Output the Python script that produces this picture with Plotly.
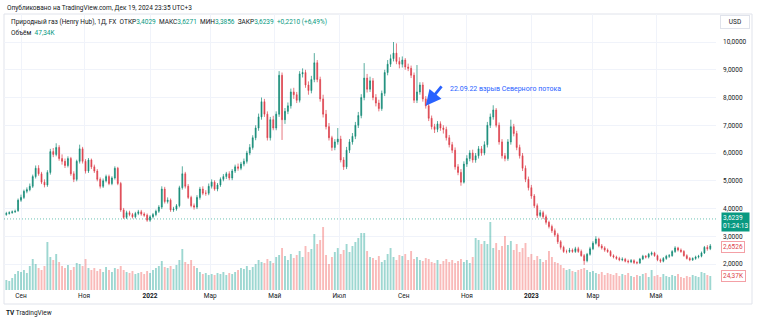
import pandas as pd
import plotly.graph_objects as go

# ---------------- data (2-trading-day candles) ----------------
DATES = pd.bdate_range("2021-08-18", periods=481)[::2]

OPEN = [3.78,3.82,3.85,3.88,3.92,4.30,4.40,4.62,4.68,4.80,
 5.15,5.45,5.25,4.95,4.85,5.30,6.05,5.95,6.20,5.80,
 5.70,5.55,5.80,5.25,5.05,5.70,6.15,5.70,5.35,5.75,
 5.50,5.35,5.05,4.80,5.00,5.15,4.90,5.10,5.45,4.90,
 3.95,3.68,3.85,3.78,3.70,3.82,3.88,3.80,3.76,3.58,
 3.70,3.78,3.90,4.05,4.70,4.25,4.30,3.95,3.98,4.10,
 4.75,5.25,4.80,4.40,4.10,4.05,4.40,4.70,4.55,4.55,
 4.80,4.95,4.70,4.85,5.05,5.15,5.25,5.10,5.35,5.50,
 5.45,5.60,5.70,6.00,6.20,6.55,6.90,7.30,7.85,7.40,
 6.55,7.20,6.90,7.40,8.80,7.20,7.50,7.70,8.20,8.10,
 7.90,8.85,8.90,8.45,8.25,8.65,9.25,8.65,7.95,7.40,
 6.95,6.55,6.20,6.40,6.50,5.75,5.50,6.10,6.40,6.60,
 7.00,7.35,8.00,8.70,8.30,8.60,8.00,7.80,7.60,8.15,
 8.90,9.20,9.40,9.60,9.30,9.20,9.35,9.10,9.05,8.80,
 7.90,8.20,8.45,7.95,7.70,7.25,6.95,6.85,7.05,6.90,
 6.85,6.55,6.30,6.10,5.50,5.30,4.95,5.60,5.80,6.00,
 5.75,5.90,6.15,6.00,6.30,7.00,7.30,7.55,7.00,6.40,
 5.90,5.80,6.40,6.95,6.70,6.20,5.90,5.45,5.05,4.75,
 4.45,4.10,3.75,3.85,3.70,3.50,3.35,3.20,3.05,2.80,
 2.60,2.45,2.45,2.50,2.45,2.55,2.45,2.30,2.12,2.35,
 2.55,2.75,2.90,2.65,2.58,2.50,2.45,2.30,2.25,2.20,
 2.15,2.17,2.10,2.08,2.12,2.05,2.04,2.18,2.28,2.25,
 2.35,2.40,2.30,2.15,2.10,2.20,2.28,2.30,2.45,2.58,
 2.50,2.45,2.30,2.20,2.15,2.20,2.25,2.28,2.40,2.60,
 2.55]

HIGH = [3.88,3.90,3.93,3.96,4.36,4.50,4.68,4.76,4.90,5.22,
 5.55,5.56,5.32,5.05,5.38,6.15,6.18,6.35,6.28,5.95,
 5.80,5.88,5.86,5.34,5.76,6.30,6.22,5.78,5.82,5.80,
 5.58,5.42,5.12,5.08,5.22,5.22,5.16,5.52,5.50,4.96,
 4.02,3.92,3.92,3.84,3.88,3.95,3.95,3.86,3.82,3.76,
 3.84,3.96,4.12,4.80,4.78,4.40,4.36,4.06,4.16,4.82,
 5.52,5.32,4.88,4.46,4.18,4.48,4.78,4.80,4.66,4.90,
 5.05,5.02,4.92,5.12,5.24,5.32,5.34,5.42,5.58,5.62,
 5.68,5.80,6.08,6.32,6.64,7.00,7.42,8.00,7.95,7.50,
 7.30,7.34,7.50,8.95,8.90,7.62,7.82,8.32,8.35,8.20,
 8.95,9.05,9.00,8.58,8.78,9.60,9.35,8.75,8.10,7.55,
 7.08,6.62,6.50,6.90,6.62,5.85,6.22,6.50,6.72,7.12,
 7.48,8.12,9.24,8.85,8.75,8.70,8.12,7.92,8.25,9.00,
 9.35,9.55,10.00,9.95,9.45,9.48,9.42,9.22,9.15,8.90,
 9.17,8.55,8.55,8.05,7.80,7.35,7.05,7.15,7.14,7.00,
 6.95,6.65,6.40,6.20,5.60,5.42,5.70,5.92,6.10,6.12,
 6.00,6.25,6.25,6.42,7.12,7.42,7.72,7.62,7.10,6.50,
 6.00,6.50,7.20,7.05,6.80,6.30,6.00,5.55,5.15,4.85,
 4.52,4.18,3.95,3.92,3.78,3.56,3.42,3.28,3.12,2.86,
 2.66,2.52,2.58,2.56,2.62,2.62,2.52,2.36,2.40,2.62,
 2.82,3.00,2.95,2.72,2.64,2.56,2.50,2.35,2.30,2.26,
 2.24,2.22,2.16,2.18,2.17,2.10,2.22,2.33,2.32,2.40,
 2.45,2.44,2.34,2.20,2.25,2.33,2.36,2.50,2.64,2.62,
 2.56,2.50,2.35,2.25,2.24,2.30,2.33,2.45,2.65,2.68,
 2.72]

LOW = [3.74,3.78,3.81,3.84,3.88,4.24,4.34,4.55,4.62,4.74,
 5.08,5.18,4.88,4.76,4.78,5.22,5.85,5.88,5.72,5.58,
 5.46,5.48,5.18,4.95,4.98,5.62,5.62,5.26,5.28,5.42,
 5.28,4.98,4.72,4.74,4.94,4.84,4.84,5.04,4.84,3.88,
 3.62,3.62,3.72,3.64,3.64,3.76,3.74,3.70,3.52,3.52,
 3.64,3.72,3.84,3.98,4.18,4.18,3.88,3.88,3.92,4.04,
 4.68,4.72,4.34,4.04,3.96,3.98,4.32,4.48,4.46,4.48,
 4.72,4.64,4.62,4.78,4.98,5.06,5.02,5.02,5.28,5.36,
 5.38,5.52,5.62,5.92,6.12,6.46,6.80,7.20,7.30,6.45,
 6.45,6.82,6.82,7.30,6.47,7.05,7.40,7.60,7.95,7.80,
 7.82,8.72,8.35,8.10,8.15,8.55,8.55,7.85,7.28,6.85,
 6.45,6.08,6.10,6.30,5.66,5.39,5.42,6.00,6.30,6.50,
 6.90,7.25,7.90,8.18,8.20,7.90,7.68,7.50,7.52,8.05,
 8.80,9.10,9.30,9.20,9.05,9.08,9.00,8.95,8.70,7.80,
 7.80,8.10,7.85,7.60,7.15,6.85,6.72,6.75,6.80,6.70,
 6.45,6.20,6.00,5.40,5.20,4.82,4.90,5.50,5.70,5.65,
 5.65,5.80,5.90,5.92,6.20,6.90,7.20,6.92,6.30,5.80,
 5.70,5.72,6.30,6.60,6.10,5.80,5.35,4.95,4.65,4.35,
 4.02,3.66,3.68,3.62,3.42,3.28,3.12,2.98,2.72,2.52,
 2.40,2.38,2.40,2.40,2.40,2.40,2.26,1.97,2.06,2.30,
 2.50,2.70,2.60,2.52,2.44,2.40,2.26,2.20,2.15,2.10,
 2.10,2.06,2.02,2.03,2.00,1.99,2.00,2.14,2.20,2.20,
 2.30,2.26,2.10,2.04,2.06,2.15,2.22,2.26,2.40,2.45,
 2.40,2.26,2.16,2.10,2.11,2.15,2.20,2.24,2.36,2.48,
 2.50]

CLOSE = [3.82,3.85,3.88,3.90,4.30,4.40,4.62,4.68,4.80,5.15,
 5.45,5.25,4.95,4.85,5.30,6.05,5.95,6.20,5.80,5.70,
 5.55,5.80,5.25,5.05,5.70,6.15,5.70,5.35,5.75,5.50,
 5.35,5.05,4.80,5.00,5.15,4.90,5.10,5.45,4.90,3.95,
 3.68,3.85,3.78,3.70,3.82,3.88,3.80,3.76,3.58,3.70,
 3.78,3.90,4.05,4.70,4.25,4.30,3.95,3.98,4.10,4.75,
 5.25,4.80,4.40,4.10,4.05,4.40,4.70,4.55,4.55,4.80,
 4.95,4.70,4.85,5.05,5.15,5.25,5.10,5.35,5.50,5.45,
 5.60,5.70,6.00,6.20,6.55,6.90,7.30,7.85,7.40,6.55,
 7.20,6.90,7.40,8.80,7.20,7.50,7.70,8.20,8.10,7.90,
 8.85,8.90,8.45,8.25,8.65,9.25,8.65,7.95,7.40,6.95,
 6.55,6.20,6.40,6.50,5.75,5.50,6.10,6.40,6.60,7.00,
 7.35,8.00,8.70,8.30,8.60,8.00,7.80,7.60,8.15,8.90,
 9.20,9.40,9.60,9.30,9.20,9.35,9.10,9.05,8.80,7.90,
 8.20,8.45,7.95,7.70,7.25,6.95,6.85,7.05,6.90,6.85,
 6.55,6.30,6.10,5.50,5.30,4.95,5.60,5.80,6.00,5.75,
 5.90,6.15,6.00,6.30,7.00,7.30,7.55,7.00,6.40,5.90,
 5.80,6.40,6.95,6.70,6.20,5.90,5.45,5.05,4.75,4.45,
 4.10,3.75,3.85,3.70,3.50,3.35,3.20,3.05,2.80,2.60,
 2.45,2.45,2.50,2.45,2.55,2.45,2.30,2.12,2.35,2.55,
 2.75,2.90,2.65,2.58,2.50,2.45,2.30,2.25,2.20,2.15,
 2.17,2.10,2.08,2.12,2.05,2.04,2.18,2.28,2.25,2.35,
 2.40,2.30,2.15,2.10,2.20,2.28,2.30,2.45,2.58,2.50,
 2.45,2.30,2.20,2.15,2.20,2.25,2.28,2.40,2.60,2.55,
 2.6526]

VOLUME_K = [17.4,15.7,20.9,27.8,33.0,31.3,34.8,29.6,41.7,53.9,
 45.2,38.3,34.8,41.7,83.5,57.4,52.2,62.6,48.7,41.7,
 38.3,43.5,34.8,40.0,47.0,45.2,41.7,53.9,38.3,34.8,
 38.3,33.0,36.5,31.3,40.0,34.8,31.3,38.3,36.5,41.7,
 34.8,31.3,29.6,33.0,27.8,29.6,31.3,27.8,33.0,29.6,
 34.8,38.3,41.7,50.4,40.0,38.3,41.7,36.5,43.5,52.2,
 71.3,48.7,45.2,52.2,41.7,38.3,31.3,27.8,29.6,26.1,
 27.8,26.1,29.6,27.8,31.3,26.1,29.6,27.8,31.3,34.8,
 38.3,36.5,41.7,34.8,40.0,45.2,52.2,48.7,47.0,53.9,
 50.4,47.0,57.4,60.9,73.0,59.1,52.2,62.6,55.7,60.9,
 67.8,57.4,76.5,66.1,71.3,97.4,80.0,87.0,109.6,60.9,
 45.2,57.4,66.1,73.0,62.6,69.6,80.0,66.1,76.5,83.5,
 90.4,99.1,99.1,67.8,57.4,55.7,52.2,59.1,48.7,52.2,
 62.6,73.0,57.4,52.2,60.9,59.1,62.6,52.2,67.8,53.9,
 57.4,52.2,50.4,55.7,53.9,48.7,47.0,52.2,45.2,50.4,
 53.9,48.7,52.2,47.0,50.4,53.9,48.7,52.2,47.0,57.4,
 90.4,87.0,80.0,85.2,80.0,118.3,73.0,81.7,69.6,76.5,
 93.9,78.3,85.2,69.6,80.0,66.1,73.0,81.7,57.4,62.6,
 52.2,59.1,53.9,48.7,52.2,67.8,57.4,48.7,47.0,43.5,
 38.3,34.8,36.5,33.0,31.3,34.8,36.5,38.3,34.8,31.3,
 33.0,29.6,27.8,31.3,26.1,29.6,27.8,26.1,29.6,24.3,
 27.8,26.1,29.6,24.3,22.6,26.1,24.3,27.8,29.6,22.6,
 34.8,24.3,26.1,22.6,27.8,24.3,22.6,26.1,24.3,27.8,
 22.6,20.9,24.3,22.6,26.1,24.3,22.6,31.3,29.6,26.1,
 24.37]

PRICE_TICKS = [2, 3, 4, 5, 6, 7, 8, 9, 10]
PRICE_TICK_LABELS = ["2,0000", "3,0000", "4,0000", "5,0000", "6,0000",
                     "7,0000", "8,0000", "9,0000", "10,0000"]
TIME_TICKS = ["2021-09-01", "2021-11-01", "2022-01-03", "2022-03-01", "2022-05-02",
              "2022-07-01", "2022-09-01", "2022-11-01", "2023-01-02", "2023-03-01",
              "2023-05-01"]
TIME_TICK_LABELS = ["Сен", "Ноя", "<b>2022</b>", "Мар", "Май", "Июл", "Сен", "Ноя",
                    "<b>2023</b>", "Мар", "Май"]

LAST_PRICE = 3.6239
LAST_PRICE_TEXT = "3,6239"
COUNTDOWN_TEXT = "01:24:13"
LAST_VISIBLE_CLOSE_TEXT = "2,6526"
LAST_VISIBLE_VOLUME_TEXT = "24,37K"
EVENT_DATE = "2022-09-22"
EVENT_PRICE = 7.7
EVENT_TEXT = "22.09.22 взрыв Северного потока"

# ---------------- styling ----------------
UP = "#128a76"
DOWN = "#dc3f4b"
UP_VOL = "rgba(38,166,154,0.45)"
DOWN_VOL = "rgba(239,83,80,0.40)"
TEAL = "#089981"
GRID = "#f0f3fa"
TXT = "#131722"
FONT = "Roboto, DejaVu Sans, sans-serif"

W, H = 758, 323
PL, PR, PT, PB = 4, 716, 14, 290


def px(x):
    return (x - PL) / (PR - PL)


def py(y):
    return (PB - y) / (PB - PT)


vol_colors = [UP_VOL if c >= o else DOWN_VOL for o, c in zip(OPEN, CLOSE)]

fig = go.Figure()
fig.add_trace(go.Bar(x=DATES, y=VOLUME_K, marker=dict(color=vol_colors, line=dict(width=0)),
                     yaxis="y", hoverinfo="skip", showlegend=False))
fig.add_trace(go.Candlestick(
    x=DATES, open=OPEN, high=HIGH, low=LOW, close=CLOSE, yaxis="y2",
    increasing=dict(line=dict(color=UP, width=0.7), fillcolor=UP),
    decreasing=dict(line=dict(color=DOWN, width=0.7), fillcolor=DOWN),
    whiskerwidth=0, hoverinfo="skip", showlegend=False))

fig.add_shape(type="line", xref="paper", x0=0, x1=1, yref="y2", y0=LAST_PRICE, y1=LAST_PRICE,
              line=dict(color="rgba(8,153,129,0.75)", width=0.8, dash="1px,2px"))
# frame
fig.add_shape(type="rect", xref="paper", yref="paper", x0=px(4), x1=px(752), y0=py(304), y1=py(14),
              line=dict(color="#e0e3eb", width=1), layer="below")

ann = []
ann.append(dict(xref="paper", yref="paper", x=px(5), y=py(8), xanchor="left", yanchor="middle",
                text="Опубликовано на TradingView.com, Дек 19, 2024 23:35 UTC+3",
                showarrow=False, font=dict(size=6.5, color=TXT)))
tv = lambda s: f"<span style='color:{TEAL}'>{s}</span>"
ann.append(dict(xref="paper", yref="paper", x=px(9), y=py(22), xanchor="left", yanchor="middle",
                text=("Природный газ (Henry Hub), 1Д, FX  ОТКР" + tv("3,4029") + "  МАКС" + tv("3,6271")
                      + "  МИН" + tv("3,3856") + "  ЗАКР" + tv("3,6239") + "  " + tv("+0,2210 (+6,49%)")),
                showarrow=False, font=dict(size=6.5, color=TXT)))
ann.append(dict(xref="paper", yref="paper", x=px(9), y=py(33), xanchor="left", yanchor="middle",
                text="Объём  " + tv("47,34K"), showarrow=False, font=dict(size=6.5, color=TXT)))
ann.append(dict(xref="paper", yref="paper", x=px(735), y=py(22), xanchor="center", yanchor="middle",
                text="USD", showarrow=False, font=dict(size=6.5, color=TXT),
                bordercolor="#e0e3eb", borderwidth=1, borderpad=2, bgcolor="white", width=24))
ann.append(dict(xref="paper", yref="y2", x=px(721), y=LAST_PRICE, xanchor="left", yanchor="middle",
                yshift=-3, text=LAST_PRICE_TEXT + "<br>" + COUNTDOWN_TEXT, showarrow=False,
                font=dict(size=6.5, color="white"), bgcolor=TEAL, borderpad=1, align="left"))
ann.append(dict(xref="paper", yref="y2", x=px(721), y=CLOSE[-1], xanchor="left", yanchor="middle",
                yshift=-1, text=LAST_VISIBLE_CLOSE_TEXT, showarrow=False,
                font=dict(size=6.5, color=DOWN), bgcolor="white", bordercolor="#f4a0a6",
                borderwidth=1, borderpad=1))
ann.append(dict(xref="paper", yref="y", x=px(721), y=VOLUME_K[-1], xanchor="left", yanchor="middle",
                text=LAST_VISIBLE_VOLUME_TEXT, showarrow=False,
                font=dict(size=6.5, color=DOWN), bgcolor="white", bordercolor="#f4a0a6",
                borderwidth=1, borderpad=1))
# event arrow + text
ann.append(dict(xref="x", yref="y2", x=EVENT_DATE, y=EVENT_PRICE, text="", showarrow=True,
                ax=17, ay=-21, arrowhead=2, arrowsize=1.1, arrowwidth=2.8, arrowcolor="#2962ff",
                standoff=0))
ann.append(dict(xref="x", yref="y2", x=EVENT_DATE, y=EVENT_PRICE, text=EVENT_TEXT, showarrow=False,
                xanchor="left", yanchor="middle", xshift=22, yshift=17,
                font=dict(size=7, color="#2962ff")))
# footer logo
ann.append(dict(xref="paper", yref="paper", x=px(4), y=py(313), xanchor="left", yanchor="middle",
                text="<b>TV</b> TradingView", showarrow=False, font=dict(size=6.5, color=TXT)))

fig.update_layout(
    width=W, height=H,
    margin=dict(l=PL, r=W - PR, t=PT, b=H - PB),
    paper_bgcolor="white", plot_bgcolor="white",
    font=dict(family=FONT, size=6.5, color=TXT),
    showlegend=False, bargap=0.35, boxgap=0.55,
    annotations=ann,
    xaxis=dict(type="date", rangeslider=dict(visible=False),
               rangebreaks=[dict(bounds=["sat", "mon"])],
               range=["2021-08-16 09:50", "2023-06-26 21:36"],
               tickvals=TIME_TICKS, ticktext=TIME_TICK_LABELS,
               showgrid=True, gridcolor=GRID, gridwidth=1, zeroline=False,
               showline=False, ticks="", tickfont=dict(size=6.5, color=TXT)),
    yaxis=dict(range=[0, 480], visible=False, showgrid=False, zeroline=False),
    yaxis2=dict(overlaying="y", side="right", range=[1.063, 11.009],
                tickvals=PRICE_TICKS, ticktext=PRICE_TICK_LABELS,
                showgrid=True, gridcolor=GRID, gridwidth=1, zeroline=False,
                showline=False, ticks="", ticklabelstandoff=6,
                tickfont=dict(size=6.5, color=TXT)),
)

fig.write_html("out.html")
